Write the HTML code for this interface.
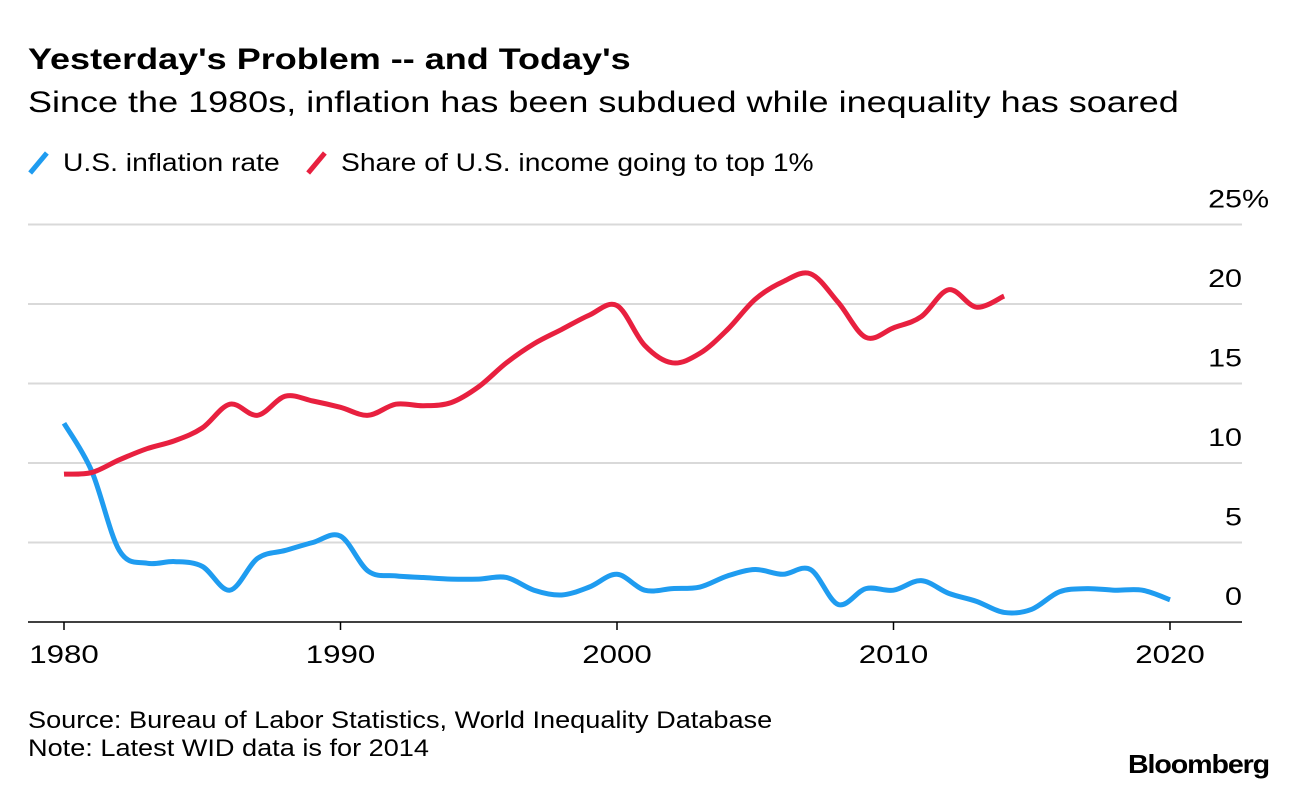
<!DOCTYPE html>
<html><head><meta charset="utf-8"><style>
body{margin:0;background:#fff;font-family:"Liberation Sans",Arial,sans-serif;color:#000;}
.wrap{position:relative;width:1296px;height:790px;overflow:hidden;}
.t{position:absolute;white-space:nowrap;transform-origin:0 0;}
</style></head><body>
<div class="wrap">
<div class="t" style="left:28px;top:43px;font-size:30px;font-weight:bold;transform:scaleX(1.2);">Yesterday's Problem -- and Today's</div>
<div class="t" style="left:28px;top:86px;font-size:30px;transform:scaleX(1.2);">Since the 1980s, inflation has been subdued while inequality has soared</div>
<div class="t" style="left:28px;top:149px;font-size:25px;"><span style="display:inline-block;width:5px;height:26px;background:#1f9cf0;transform:rotate(40deg);vertical-align:-5px;margin:0 22px 0 8px;"></span><span style="display:inline-block;transform:scaleX(1.13);transform-origin:0 0;">U.S. inflation rate</span></div>
<div class="t" style="left:306px;top:149px;font-size:25px;"><span style="display:inline-block;width:5px;height:26px;background:#e8203f;transform:rotate(40deg);vertical-align:-5px;margin:0 22px 0 8px;"></span><span style="display:inline-block;transform:scaleX(1.13);transform-origin:0 0;">Share of U.S. income going to top 1%</span></div>
<svg id="chart" width="1296" height="790" style="position:absolute;left:0;top:0;"></svg>
<div class="t" style="left:28px;top:707px;font-size:24px;transform:scaleX(1.13);">Source: Bureau of Labor Statistics, World Inequality Database</div>
<div class="t" style="left:28px;top:735px;font-size:24px;transform:scaleX(1.13);">Note: Latest WID data is for 2014</div>
<div class="t" style="left:1128px;top:749px;font-size:26px;font-weight:bold;letter-spacing:-1px;transform:scaleX(1.1);">Bloomberg</div>
</div>
<script>
const yTicks=[0,5,10,15,20,25];
const xTicks=[1980,1990,2000,2010,2020];
const inflYears=[1980,1981,1982,1983,1984,1985,1986,1987,1988,1989,1990,1991,1992,1993,1994,1995,1996,1997,1998,1999,2000,2001,2002,2003,2004,2005,2006,2007,2008,2009,2010,2011,2012,2013,2014,2015,2016,2017,2018,2019,2020];
const inflValues=[12.5,9.5,4.5,3.7,3.8,3.5,2.0,4.0,4.5,5.0,5.4,3.2,2.9,2.8,2.7,2.7,2.8,2.0,1.7,2.2,3.0,2.0,2.1,2.2,2.9,3.3,3.0,3.3,1.1,2.1,2.0,2.6,1.8,1.3,0.6,0.8,1.9,2.1,2.0,2.0,1.4];
const shareYears=[1980,1981,1982,1983,1984,1985,1986,1987,1988,1989,1990,1991,1992,1993,1994,1995,1996,1997,1998,1999,2000,2001,2002,2003,2004,2005,2006,2007,2008,2009,2010,2011,2012,2013,2014];
const shareValues=[9.3,9.4,10.2,10.9,11.4,12.2,13.7,13.0,14.2,13.9,13.5,13.0,13.7,13.6,13.8,14.8,16.3,17.5,18.4,19.3,19.9,17.4,16.3,16.9,18.4,20.3,21.4,21.9,20.1,17.9,18.5,19.2,20.9,19.8,20.5];
const X=y=>64+(y-1980)*27.65;
const Y=v=>622-v*15.9;
const svg=document.getElementById('chart');
const NS='http://www.w3.org/2000/svg';
function mk(t,a){const e=document.createElementNS(NS,t);for(const k in a)e.setAttribute(k,a[k]);svg.appendChild(e);return e;}
yTicks.forEach(v=>{
  if(v>0){const g=mk('line',{x1:28,x2:1242,y1:Y(v),y2:Y(v),stroke:'#d9d9d9','stroke-width':2});
  
  }
  const t=mk('text',{transform:`translate(1242,${Y(v)-17}) scale(1.22,1)`,'text-anchor':'end','font-size':25,'font-family':'Liberation Sans, Arial, sans-serif'});
  t.textContent=String(v);
  
  
  if(v===25){const p=mk('text',{transform:`translate(1242,${Y(v)-17}) scale(1.22,1)`,'text-anchor':'start','font-size':25,'font-family':'Liberation Sans, Arial, sans-serif'});
  p.textContent='%';
  
  }
});
const ax=mk('line',{x1:28,x2:1242,y1:622,y2:622,stroke:'#000','stroke-width':1.5});


xTicks.forEach(y=>{
  const l=mk('line',{x1:X(y),x2:X(y),y1:622,y2:630,stroke:'#000','stroke-width':1.5});
  
  
  const t=mk('text',{transform:`translate(${X(y)},663) scale(1.25,1)`,'text-anchor':'middle','font-size':25,'font-family':'Liberation Sans, Arial, sans-serif'});
  t.textContent=y;
  
  
});
function path(xs,vs){
  const p=xs.map((x,i)=>[X(x),Y(vs[i])]);
  let d='M'+p[0][0]+','+p[0][1];
  for(let i=0;i<p.length-1;i++){
    const p0=p[i-1]||p[i],p1=p[i],p2=p[i+1],p3=p[i+2]||p2;
    const c1=[p1[0]+(p2[0]-p0[0])/6,p1[1]+(p2[1]-p0[1])/6];
    const c2=[p2[0]-(p3[0]-p1[0])/6,p2[1]-(p3[1]-p1[1])/6];
    d+=` C${c1[0]},${c1[1]} ${c2[0]},${c2[1]} ${p2[0]},${p2[1]}`;
  }
  return d;
}
const a=mk('path',{d:path(inflYears,inflValues),fill:'none',stroke:'#1f9cf0','stroke-width':5,'stroke-linejoin':'round'});


const b=mk('path',{d:path(shareYears,shareValues),fill:'none',stroke:'#e8203f','stroke-width':5,'stroke-linejoin':'round'});


</script>
</body></html>
